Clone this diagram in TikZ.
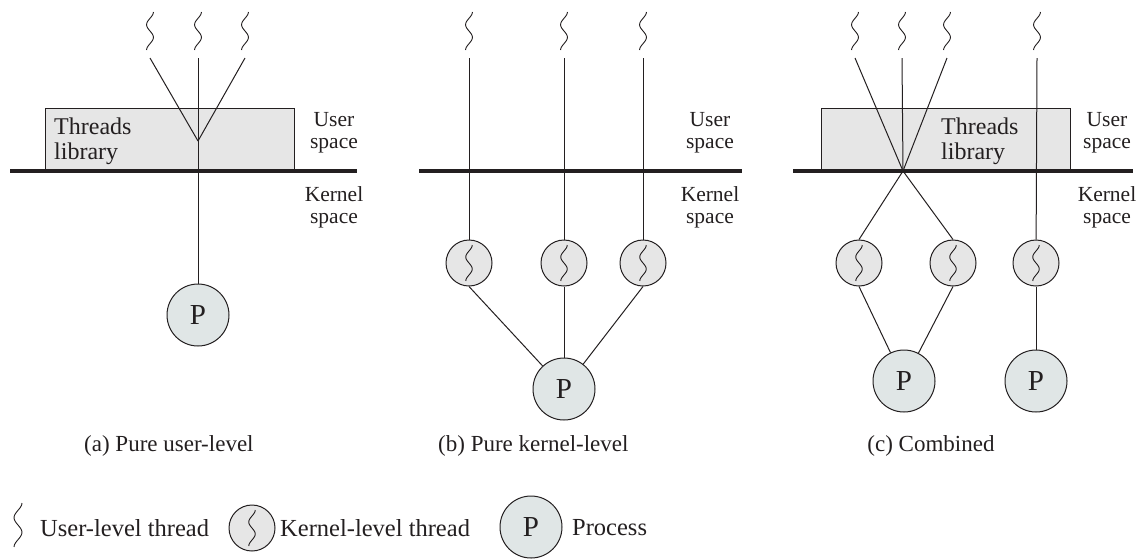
\documentclass[tikz,border=0pt]{standalone}
\usepackage{fontspec}
\setmainfont{Liberation Serif}
\usetikzlibrary{positioning,calc}
\definecolor{libgray}{HTML}{E6E6E6}
\definecolor{kgray}{HTML}{E6E6E6}
\definecolor{pgray}{HTML}{E0E6E6}
\definecolor{ink}{HTML}{231F20}

\begin{document}
\begin{tikzpicture}[
    x=1pt, y=-1pt,
    font=\fontsize{23}{25}\selectfont,
    color=ink,
    wiggle/.style={path picture={\draw[line width=0.9pt, shift={(path picture bounding box.center)}]
        plot[smooth, domain=-0.5:0.5, samples=31] ({#1*0.09*sin(\x*540)}, {\x*#1});}},
    uthread/.style={fill=white, minimum width=12pt, minimum height=40pt, inner sep=0pt, outer ysep=7pt, wiggle=38},
    kthread/.style={circle, draw, line width=1pt, fill=kgray, minimum size=46pt, inner sep=0pt, wiggle=36},
    proc/.style={circle, draw, line width=1pt, fill=pgray, minimum size=62pt, inner sep=0pt, font=\fontsize{29}{30}\selectfont},
    libbox/.style={draw, line width=1pt, fill=libgray, minimum width=249pt, minimum height=61pt, inner sep=0pt},
    lbl/.style={align=center, inner sep=0pt},
    libtxt/.style={align=left, anchor=west, inner sep=0pt, font=\fontsize{24}{25}\selectfont},
    space/.style={align=center, inner sep=0pt, font=\fontsize{21.5}{22}\selectfont},
    legend/.style={anchor=west, inner sep=0pt, font=\fontsize{24.5}{25}\selectfont},
    link/.style={line width=1pt},
    border/.style={line width=3.5pt},
]
\useasboundingbox (0,0) rectangle (1143,558);

% (a) pure user-level
\node[libbox] (liba) at (169.5,138.5) {};
\node[libtxt] (libtxta) at (54,141) {Threads\\library};
\draw[border] (10,171) -- (357,171);
\node[space] (usera) at (334,133) {User\\space};
\node[space] (kerna) at (334,207) {Kernel\\space};
\node[uthread] (ua1) at (150,31) {};
\node[uthread] (ua2) at (198,31) {};
\node[uthread] (ua3) at (245,31) {};
\coordinate (joina) at (198,141);
\node[proc] (pa) at (198,315) {P};
\draw[link] (ua1.south) -- (joina);
\draw[link] (ua3.south) -- (joina);
\draw[link] (ua2.south) -- (pa);
\node[lbl, anchor=west] (capa) at (84,446) {(a) Pure user-level};

% (b) pure kernel-level
\draw[border] (419,171) -- (742,171);
\node[space] (userb) at (710,133) {User\\space};
\node[space] (kernb) at (710,207) {Kernel\\space};
\node[uthread] (ub1) at (469,31) {};
\node[uthread] (ub2) at (564,31) {};
\node[uthread] (ub3) at (643,31) {};
\node[kthread] (kb1) at (469,263) {};
\node[kthread] (kb2) at (564,263) {};
\node[kthread] (kb3) at (643,263) {};
\node[proc] (pb) at (564,389) {P};
\foreach \i in {1,2,3} {
  \draw[link] (ub\i.south) -- (kb\i);
  \draw[link] (kb\i.south) -- (pb);
}
\node[lbl, anchor=west] (capb) at (438,446) {(b) Pure kernel-level};

% (c) combined
\node[libbox] (libc) at (945.5,138.5) {};
\node[libtxt] (libtxtc) at (941,141) {Threads\\library};
\draw[border] (793,171) -- (1133,171);
\node[space] (userc) at (1107,133) {User\\space};
\node[space] (kernc) at (1107,207) {Kernel\\space};
\node[uthread] (uc1) at (855,31) {};
\node[uthread] (uc2) at (902,31) {};
\node[uthread] (uc3) at (947,31) {};
\node[uthread] (uc4) at (1037,31) {};
\coordinate (crossc) at (903,171);
\node[kthread] (kc1) at (859,263) {};
\node[kthread] (kc2) at (953,263) {};
\node[kthread] (kc3) at (1036,263) {};
\node[proc] (pc1) at (904,381) {P};
\node[proc] (pc2) at (1036,381) {P};
\foreach \i in {1,2,3}
  \draw[link] (uc\i.south) -- (crossc);
\draw[link] (crossc) -- (kc1.north);
\draw[link] (crossc) -- (kc2.north);
\draw[link] (uc4.south) -- (kc3);
\draw[link] (kc1.south) -- (pc1);
\draw[link] (kc2.south) -- (pc1);
\draw[link] (kc3) -- (pc2);
\node[lbl] (capc) at (931,446) {(c) Combined};

% legend
\node[uthread, minimum height=46pt, wiggle=44] (lgu) at (18,525) {};
\node[legend] (lgutxt) at (40,528) {User-level thread};
\node[kthread] (lgk) at (252,528) {};
\node[legend] (lgktxt) at (280,528) {Kernel-level thread};
\node[proc] (lgp) at (531,527) {P};
\node[legend] (lgptxt) at (572,528) {Process};
\end{tikzpicture}
\end{document}
